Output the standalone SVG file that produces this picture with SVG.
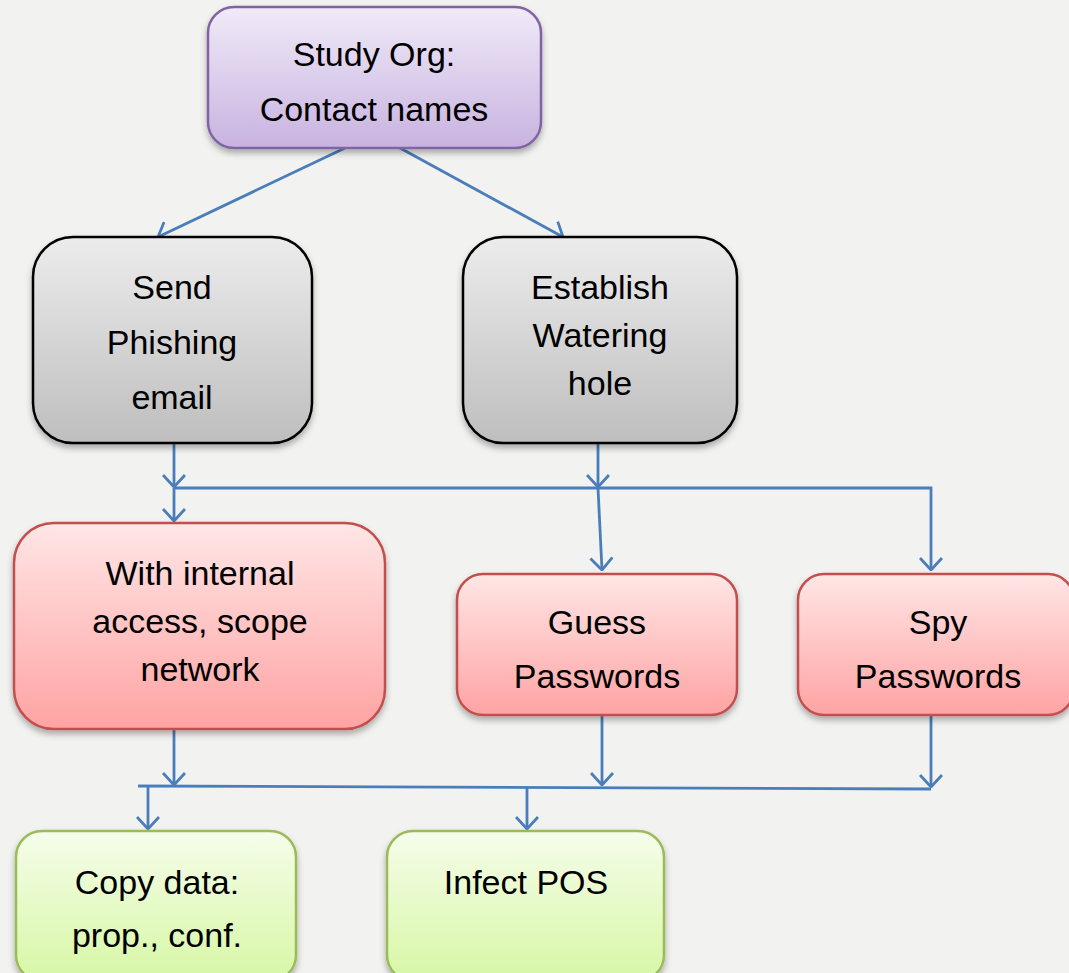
<svg xmlns="http://www.w3.org/2000/svg" width="1069" height="973" viewBox="0 0 1069 973">
<defs>
<linearGradient id="gPurple" x1="0" y1="0" x2="0" y2="1"><stop offset="0" stop-color="#f0eaf8"/><stop offset="1" stop-color="#c8b3e0"/></linearGradient>
<linearGradient id="gGray" x1="0" y1="0" x2="0" y2="1"><stop offset="0" stop-color="#ececec"/><stop offset="1" stop-color="#bebebe"/></linearGradient>
<linearGradient id="gRed" x1="0" y1="0" x2="0" y2="1"><stop offset="0" stop-color="#ffe6e6"/><stop offset="1" stop-color="#ffa3a3"/></linearGradient>
<linearGradient id="gGreen" x1="0" y1="0" x2="0" y2="1"><stop offset="0" stop-color="#f5fdea"/><stop offset="1" stop-color="#d7f7a5"/></linearGradient>
<filter id="sh" x="-10%" y="-10%" width="120%" height="130%"><feDropShadow dx="0" dy="4" stdDeviation="3" flood-color="#000" flood-opacity="0.3"/></filter>
<marker id="arr" viewBox="0 0 14 24" refX="13" refY="12" markerWidth="14" markerHeight="24" markerUnits="userSpaceOnUse" orient="auto"><path d="M1,1 L13,12 L1,23" fill="none" stroke="#4a7ebb" stroke-width="2.8"/></marker>
</defs>
<style>
.lbl{font-family:"Liberation Sans",Arial,sans-serif;font-size:34px;fill:#000;text-anchor:middle}
.c{fill:none;stroke:#4a7ebb;stroke-width:2.8}
</style>
<rect width="1069" height="973" fill="#f2f2f0"/>
<g id="connectors">
<line class="c" x1="345" y1="148" x2="158" y2="237" marker-end="url(#arr)"/>
<line class="c" x1="400" y1="148" x2="563" y2="237" marker-end="url(#arr)"/>
<line class="c" x1="174" y1="444" x2="174" y2="487" marker-end="url(#arr)"/>
<line class="c" x1="598" y1="444" x2="598" y2="487" marker-end="url(#arr)"/>
<polyline class="c" points="174,488 931,488 931,570" marker-end="url(#arr)"/>
<line class="c" x1="174" y1="488" x2="174" y2="521" marker-end="url(#arr)"/>
<line class="c" x1="598" y1="488" x2="602" y2="570" marker-end="url(#arr)"/>
<line class="c" x1="174" y1="730" x2="174" y2="785" marker-end="url(#arr)"/>
<line class="c" x1="602" y1="716" x2="602" y2="785" marker-end="url(#arr)"/>
<line class="c" x1="931" y1="716" x2="931" y2="787" marker-end="url(#arr)"/>
<line class="c" x1="138" y1="786" x2="931" y2="789"/>
<line class="c" x1="148" y1="786" x2="148" y2="829" marker-end="url(#arr)"/>
<line class="c" x1="527" y1="787" x2="527" y2="829" marker-end="url(#arr)"/>
</g>
<g id="study">
<rect x="208" y="7" width="333" height="141" rx="26" fill="url(#gPurple)" stroke="#8064a2" stroke-width="2.5" filter="url(#sh)"/>
<text class="lbl" x="374" y="66">Study Org:</text>
<text class="lbl" x="374" y="121">Contact names</text>
</g>
<g id="phishing">
<rect x="33" y="237" width="279" height="206" rx="40" fill="url(#gGray)" stroke="#000" stroke-width="2.5" filter="url(#sh)"/>
<text class="lbl" x="172" y="299">Send</text>
<text class="lbl" x="172" y="354">Phishing</text>
<text class="lbl" x="172" y="409">email</text>
</g>
<g id="watering">
<rect x="463" y="237" width="274" height="206" rx="40" fill="url(#gGray)" stroke="#000" stroke-width="2.5" filter="url(#sh)"/>
<text class="lbl" x="600" y="299">Establish</text>
<text class="lbl" x="600" y="347">Watering</text>
<text class="lbl" x="600" y="395">hole</text>
</g>
<g id="internal">
<rect x="14" y="523" width="371" height="206" rx="40" fill="url(#gRed)" stroke="#c0504d" stroke-width="2.5" filter="url(#sh)"/>
<text class="lbl" x="200" y="585">With internal</text>
<text class="lbl" x="200" y="633">access, scope</text>
<text class="lbl" x="200" y="681">network</text>
</g>
<g id="guess">
<rect x="457" y="574" width="280" height="141" rx="26" fill="url(#gRed)" stroke="#c0504d" stroke-width="2.5" filter="url(#sh)"/>
<text class="lbl" x="597" y="634">Guess</text>
<text class="lbl" x="597" y="688">Passwords</text>
</g>
<g id="spy">
<rect x="798" y="574" width="276" height="141" rx="26" fill="url(#gRed)" stroke="#c0504d" stroke-width="2.5" filter="url(#sh)"/>
<text class="lbl" x="938" y="634">Spy</text>
<text class="lbl" x="938" y="688">Passwords</text>
</g>
<g id="copy">
<rect x="16" y="831" width="280" height="150" rx="26" fill="url(#gGreen)" stroke="#9bbb59" stroke-width="2.5" filter="url(#sh)"/>
<text class="lbl" x="157" y="894">Copy data:</text>
<text class="lbl" x="157" y="947">prop., conf.</text>
</g>
<g id="infect">
<rect x="387" y="831" width="277" height="150" rx="26" fill="url(#gGreen)" stroke="#9bbb59" stroke-width="2.5" filter="url(#sh)"/>
<text class="lbl" x="526" y="894">Infect POS</text>
</g>
</svg>
